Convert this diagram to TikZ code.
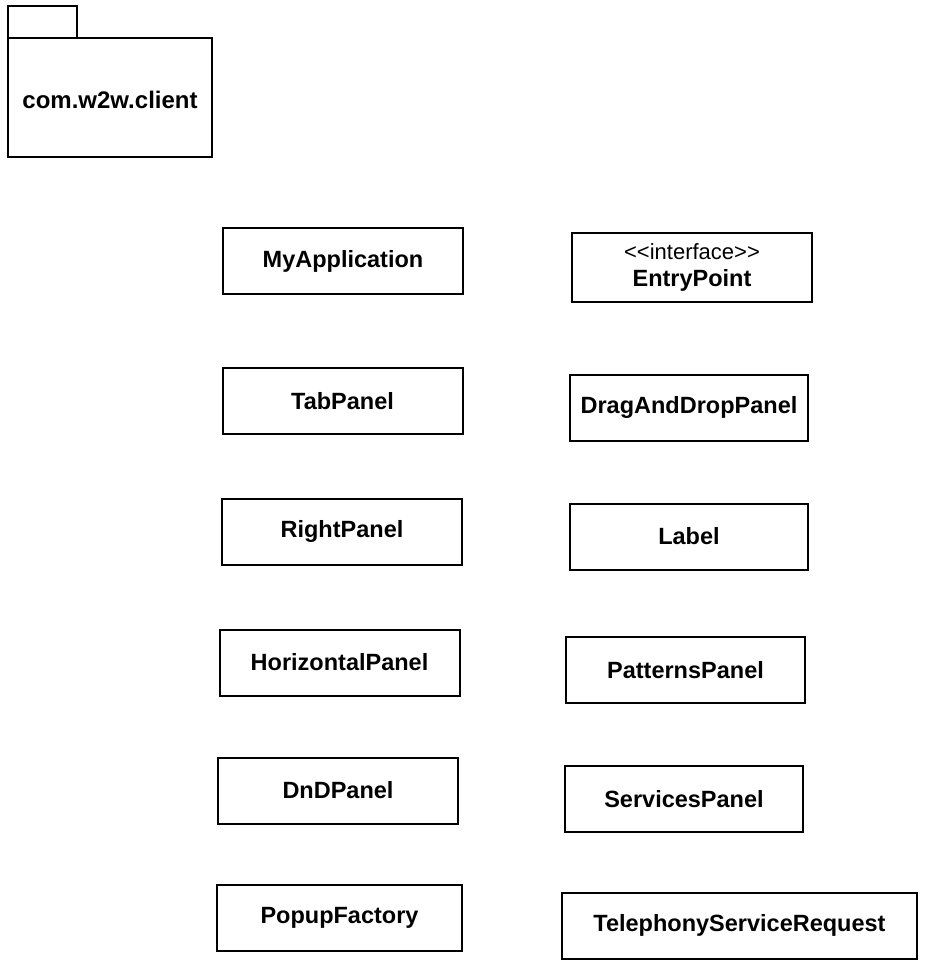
\documentclass[tikz,border=0pt]{standalone}
\usepackage{fontspec}
\setmainfont{Liberation Sans}
\begin{document}
\begin{tikzpicture}[x=1pt,y=-1pt,
  umlline/.style={draw=black,line width=2pt},
  classbox/.style={umlline,rectangle,inner sep=0pt,minimum width=240pt,minimum height=66pt,
    align=center,font=\fontsize{23.5}{27}\selectfont\bfseries},
  pkgname/.style={font=\fontsize{24}{28}\selectfont\bfseries,inner sep=0pt}]
\useasboundingbox[fill=white] (0,0) rectangle (932,964);

% package icon: tab and body
\draw[umlline] (8,38) -- (8,6) -- (77,6) -- (77,38);
\draw[umlline] (8,38) rectangle (212,157);
\node[pkgname] (pkg) at (110,100) {com.w2w.client};

% left column of classes
\node[classbox] (myapp)  at (343,261) {MyApplication};
\node[classbox] (tab)    at (342.5,401) {TabPanel};
\node[classbox] (right)  at (342,531.5) {RightPanel};
\node[classbox] (horiz)  at (339.5,662.5) {HorizontalPanel};
\node[classbox] (dnd)    at (338,790.5) {DnDPanel};
\node[classbox,minimum width=245pt] (popup) at (339.5,917.5) {PopupFactory};

% right column of classes (kerns keep the angle brackets from merging into guillemets)
\node[classbox,minimum height=69pt] (entry) at (692,267.5)
  {{\mdseries\fontsize{22}{27}\selectfont <\kern0pt<interface>\kern0pt>}\\EntryPoint};
\node[classbox,minimum width=238pt] (drag)  at (689,407.5) {DragAndDropPanel};
\node[classbox,minimum width=238pt] (label) at (689,536.5) {Label};
\node[classbox,minimum width=239pt] (pat)   at (685.5,670) {PatternsPanel};
\node[classbox,minimum width=238pt] (serv)  at (684,799) {ServicesPanel};
\node[classbox,minimum width=355pt] (tel)   at (739.5,925.5) {TelephonyServiceRequest};
\end{tikzpicture}
\end{document}
